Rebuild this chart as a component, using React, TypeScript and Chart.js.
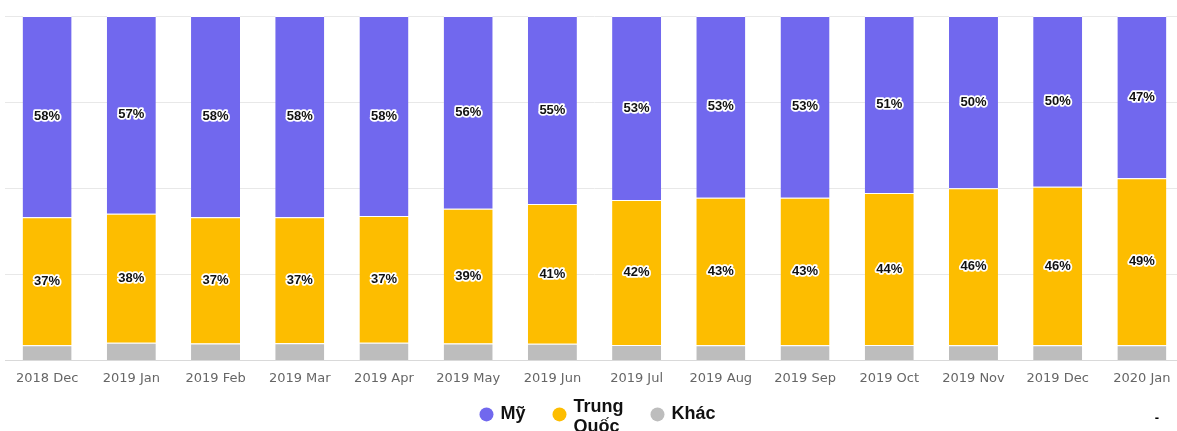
import React, { useEffect, useRef } from 'react';
import { Chart, registerables } from 'chart.js';

Chart.register(...registerables);

const categories = [
  '2018 Dec', '2019 Jan', '2019 Feb', '2019 Mar', '2019 Apr', '2019 May', '2019 Jun',
  '2019 Jul', '2019 Aug', '2019 Sep', '2019 Oct', '2019 Nov', '2019 Dec', '2020 Jan',
];
const usShare = [58.4, 57.4, 58.4, 58.4, 58.1, 56.0, 54.6, 53.4, 52.8, 52.8, 51.4, 50.0, 49.6, 47.1];
const chinaShare = [37.2, 37.5, 36.7, 36.6, 36.8, 39.1, 40.6, 42.1, 42.8, 42.8, 44.1, 45.6, 46.0, 48.5];
const otherShare = [4.4, 5.1, 4.9, 5.0, 5.1, 4.9, 4.8, 4.5, 4.4, 4.4, 4.5, 4.4, 4.4, 4.4];
const seriesNames = ['Mỹ', 'Trung Quốc', 'Khác'];
const legendLines = [['Mỹ'], ['Trung', 'Quốc'], ['Khác']];
const seriesColors = ['#7168ee', '#fdbd00', '#bdbdbd'];
const labeledSeries = [true, true, false];
const footnote = '-';

export default function App() {
  const ref = useRef<HTMLCanvasElement | null>(null);

  useEffect(() => {
    if (!ref.current) return;
    // datasets stacked from bottom: Khác, Trung Quốc, Mỹ
    const seriesData = [usShare, chinaShare, otherShare];
    const order = [2, 1, 0];
    const datasets = order.map((s) => ({
      label: seriesNames[s],
      data: seriesData[s],
      backgroundColor: seriesColors[s],
      borderColor: '#ffffff',
      borderWidth: { top: 1, right: 0, bottom: 0, left: 0 },
      borderSkipped: 'start',
      barPercentage: 0.582,
      categoryPercentage: 1,
      seriesIndex: s,
    }));

    const labelPlugin = {
      id: 'segLabels',
      afterDatasetsDraw(chart: any) {
        const ctx = chart.ctx;
        ctx.save();
        ctx.font = 'bold 13px "Liberation Sans"';
        ctx.textAlign = 'center';
        ctx.textBaseline = 'middle';
        ctx.lineJoin = 'round';
        chart.data.datasets.forEach((ds: any, di: number) => {
          if (!labeledSeries[ds.seriesIndex]) return;
          const meta = chart.getDatasetMeta(di);
          meta.data.forEach((bar: any, i: number) => {
            const p = bar.getProps(['x', 'y', 'base'], true);
            const cy = (p.y + p.base) / 2;
            const txt = Math.round(ds.data[i]) + '%';
            ctx.strokeStyle = '#ffffff';
            ctx.lineWidth = 3.5;
            ctx.strokeText(txt, p.x, cy);
            ctx.fillStyle = '#111111';
            ctx.fillText(txt, p.x, cy);
          });
        });

        // legend (custom, so the two-line label can be centred on its marker)
        const area = chart.chartArea;
        const legendY = area.bottom + 54;
        const r = 7;
        const textGap = 7;
        const itemGap = 27;
        ctx.font = 'bold 18px "Liberation Sans"';
        ctx.textAlign = 'left';
        const widths = legendLines.map((lines) => Math.max(...lines.map((l) => ctx.measureText(l).width)));
        const total = widths.reduce((a, w) => a + 2 * r + textGap + w, 0) + itemGap * (widths.length - 1);
        let x = chart.width / 2 + 5.5 - total / 2;
        legendLines.forEach((lines, s) => {
          ctx.fillStyle = seriesColors[s];
          ctx.beginPath();
          ctx.arc(x + r, legendY, r, 0, Math.PI * 2);
          ctx.fill();
          ctx.fillStyle = '#111111';
          const lh = 20;
          const y0 = lines.length > 1 ? legendY - 7 : legendY;
          lines.forEach((l, li) => ctx.fillText(l, x + 2 * r + textGap, y0 + li * lh));
          x += 2 * r + textGap + widths[s] + itemGap;
        });

        ctx.font = 'bold 13px "Liberation Sans"';
        ctx.textAlign = 'center';
        ctx.fillStyle = '#000';
        ctx.fillText(footnote, area.right - 27, area.bottom + 58);
        ctx.restore();
      },
    };

    const chart = new Chart(ref.current, {
      type: 'bar',
      data: { labels: categories, datasets: datasets as any },
      options: {
        animation: false,
        responsive: true,
        maintainAspectRatio: false,
        layout: { padding: { left: 5, right: 0, top: 16, bottom: 51 } },
        scales: {
          x: {
            stacked: true,
            grid: { display: false, drawTicks: false },
            border: { color: '#d9d9d9' },
            ticks: {
              color: '#666666',
              font: { family: '"DejaVu Sans"', size: 13 },
              padding: 10,
              maxRotation: 0,
            },
          },
          y: {
            stacked: true,
            min: 0,
            max: 100,
            ticks: { display: false, stepSize: 25 },
            grid: { color: '#e8e8e8', drawTicks: false },
            border: { display: false },
          },
        },
        plugins: {
          tooltip: { enabled: false },
          legend: { display: false },
        },
      },
      plugins: [labelPlugin],
    });
    return () => chart.destroy();
  }, []);

  return (
    <div style={{ position: 'absolute', left: 0, top: 0, width: 1177, height: 431, overflow: 'hidden', background: '#fff' }}>
      <div style={{ position: 'relative', width: 1184, height: 447 }}>
        <canvas ref={ref} />
      </div>
    </div>
  );
}
